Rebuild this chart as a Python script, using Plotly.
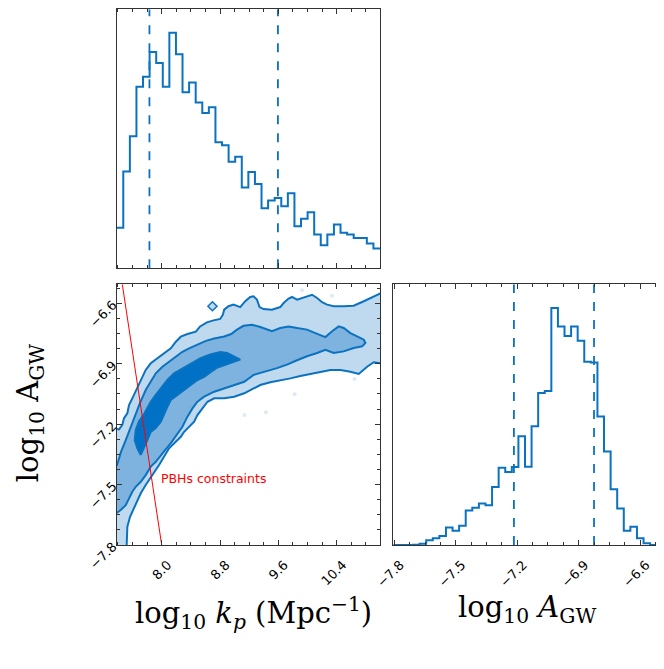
import numpy as np
import plotly.graph_objects as go

# axis limits
k_lim = [7.383, 10.994]
a_lim = [-7.8, -6.506]
a_hist_lim = [-7.805, -6.519]

# 1D marginal of log10 k_p (40 bins, relative counts)
k_counts = [123, 293, 400, 550, 580, 655, 622, 550, 713, 648, 533, 563, 502, 470, 488,
            382, 373, 323, 338, 245, 292, 255, 182, 205, 213, 188, 227, 127, 150, 170,
            102, 70, 102, 133, 108, 102, 92, 92, 75, 60]
k_quantiles = [7.832, 9.594]

# 1D marginal of log10 A_GW (40 bins, relative counts)
a_counts = [0, 0, 0, 1, 4, 14, 20, 27, 53, 43, 58, 104, 112, 125, 120, 175, 233, 220, 235, 328,
            236, 358, 458, 464, 714, 658, 630, 658, 615, 552, 550, 387, 282, 168, 110, 43, 55, 20, 5, 0]
a_quantiles = [-7.216, -6.825]

# 2D credible contours (data units)
outer_up_k = [7.383, 7.415, 7.460, 7.483, 7.529, 7.552, 7.597, 7.666, 7.713, 7.781, 7.850, 7.941, 8.033,
              8.125, 8.194, 8.262, 8.353, 8.468, 8.527, 8.620, 8.710, 8.802, 8.839, 8.857, 8.916, 8.985,
              9.077, 9.146, 9.214, 9.260, 9.306, 9.342, 9.397, 9.512, 9.626, 9.672, 9.740, 9.787, 9.856,
              9.925, 9.993, 10.062, 10.131, 10.199, 10.268, 10.359, 10.496, 10.633, 10.771, 10.908, 11.0]
outer_up_a = [-7.224, -7.226, -7.204, -7.171, -7.146, -7.105, -7.072, -7.022, -6.981, -6.931, -6.898, -6.873,
              -6.849, -6.824, -6.791, -6.766, -6.753, -6.741, -6.715, -6.695, -6.685, -6.678, -6.657, -6.632,
              -6.615, -6.607, -6.619, -6.590, -6.569, -6.566, -6.582, -6.619, -6.629, -6.632, -6.619, -6.599,
              -6.577, -6.569, -6.582, -6.574, -6.563, -6.558, -6.574, -6.595, -6.607, -6.615, -6.615, -6.612,
              -6.590, -6.566, -6.551]
outer_lo_k = [11.0, 10.908, 10.817, 10.702, 10.588, 10.451, 10.313, 10.176, 10.039, 9.901, 9.764, 9.626,
              9.489, 9.352, 9.214, 9.132, 8.994, 8.857, 8.720, 8.628, 8.559, 8.490, 8.445, 8.376, 8.308,
              8.262, 8.101, 7.964, 7.850, 7.781, 7.713, 7.644, 7.566, 7.529, 7.520]
outer_lo_a = [-6.898, -6.893, -6.915, -6.951, -6.940, -6.931, -6.931, -6.940, -6.951, -6.961, -6.973, -6.981,
              -6.992, -7.006, -7.031, -7.047, -7.064, -7.072, -7.072, -7.089, -7.122, -7.155, -7.188, -7.213,
              -7.238, -7.263, -7.320, -7.403, -7.461, -7.502, -7.543, -7.602, -7.660, -7.709, -7.800]
mid_k = [7.383, 7.401, 7.442, 7.507, 7.575, 7.644, 7.703, 7.781, 7.850, 7.919, 8.010, 8.101, 8.194, 8.284,
         8.376, 8.490, 8.606, 8.720, 8.857, 8.953, 9.032, 9.122, 9.238, 9.352, 9.444, 9.512, 9.626, 9.740,
         9.856, 9.993, 10.107, 10.245, 10.337, 10.427, 10.496, 10.588, 10.680, 10.771, 10.794, 10.749,
         10.633, 10.496, 10.359, 10.245, 10.131, 9.993, 9.856, 9.718, 9.581, 9.444, 9.260, 9.132, 8.994,
         8.857, 8.720, 8.582, 8.490, 8.422, 8.353, 8.284, 8.216, 8.125, 8.010, 7.919, 7.850, 7.781, 7.713,
         7.644, 7.597, 7.552, 7.507, 7.438, 7.383]
mid_a = [-7.408, -7.388, -7.338, -7.279, -7.214, -7.150, -7.095, -7.031, -6.986, -6.948, -6.915, -6.890,
         -6.865, -6.841, -6.824, -6.804, -6.787, -6.775, -6.765, -6.753, -6.731, -6.712, -6.707, -6.718,
         -6.731, -6.739, -6.723, -6.715, -6.723, -6.731, -6.748, -6.768, -6.739, -6.715, -6.723, -6.748,
         -6.764, -6.781, -6.797, -6.814, -6.822, -6.839, -6.847, -6.831, -6.847, -6.863, -6.883, -6.905,
         -6.922, -6.935, -6.956, -6.990, -7.006, -7.022, -7.039, -7.064, -7.089, -7.122, -7.163, -7.213,
         -7.249, -7.294, -7.345, -7.387, -7.411, -7.453, -7.486, -7.511, -7.536, -7.568, -7.602, -7.626, -7.641]
inner_k = [7.713, 7.666, 7.630, 7.644, 7.689, 7.758, 7.803, 7.850, 7.919, 7.988, 8.078, 8.170, 8.284, 8.400,
           8.527, 8.665, 8.802, 8.898, 8.981, 9.077, 9.008, 8.940, 8.857, 8.765, 8.674, 8.582, 8.490, 8.400,
           8.308, 8.216, 8.125, 8.078, 8.033, 7.988, 7.919, 7.850, 7.803, 7.758, 7.721, 7.713]
inner_a = [-7.353, -7.320, -7.279, -7.229, -7.185, -7.150, -7.120, -7.089, -7.055, -7.022, -6.981, -6.948,
           -6.923, -6.898, -6.874, -6.854, -6.842, -6.847, -6.862, -6.880, -6.888, -6.897, -6.904, -6.919,
           -6.941, -6.965, -6.981, -7.006, -7.031, -7.055, -7.080, -7.114, -7.155, -7.188, -7.219, -7.239,
           -7.279, -7.312, -7.345, -7.353]

# isolated low-density samples
island_k, island_a = [8.696], [-6.615]
stray_k = [9.136, 9.430, 9.823, 10.643, 9.925, 10.337]
stray_a = [-7.155, -7.141, -7.052, -6.976, -6.536, -6.563]

# PBH constraint line
pbh_k = [7.46, 8.0]
pbh_a = [-6.506, -7.8]

BLUE = "#0b72c0"
LIGHT = "#bfd9ee"
MID = "#7eb3df"
DARK = "#0071c5"

fig = go.Figure()

# top histogram
k_edges = np.linspace(k_lim[0], k_lim[1], len(k_counts) + 1)
fig.add_trace(go.Scatter(x=k_edges, y=k_counts + [k_counts[-1]], mode="lines", line_shape="hv",
                         line=dict(color=BLUE, width=2), xaxis="x", yaxis="y"))
for q in k_quantiles:
    fig.add_trace(go.Scatter(x=[q, q], y=[0, 1.1 * max(k_counts)], mode="lines",
                             line=dict(color=BLUE, width=1.8, dash="dash"), xaxis="x", yaxis="y"))

# right histogram
a_edges = np.linspace(a_hist_lim[0], a_hist_lim[1], len(a_counts) + 1)
fig.add_trace(go.Scatter(x=a_edges, y=a_counts + [a_counts[-1]], mode="lines", line_shape="hv",
                         line=dict(color=BLUE, width=2), xaxis="x3", yaxis="y3"))
for q in a_quantiles:
    fig.add_trace(go.Scatter(x=[q, q], y=[0, 1.1 * max(a_counts)], mode="lines",
                             line=dict(color=BLUE, width=1.8, dash="dash"), xaxis="x3", yaxis="y3"))

# 2D filled contours
fig.add_trace(go.Scatter(x=outer_up_k + outer_lo_k + [k_lim[0], k_lim[0]],
                         y=outer_up_a + outer_lo_a + [a_lim[0], outer_up_a[0]],
                         fill="toself", fillcolor=LIGHT, mode="lines", line=dict(width=0),
                         xaxis="x2", yaxis="y2"))
fig.add_trace(go.Scatter(x=mid_k + [mid_k[0]], y=mid_a + [mid_a[0]], fill="toself", fillcolor=MID,
                         mode="lines", line=dict(width=0), xaxis="x2", yaxis="y2"))
fig.add_trace(go.Scatter(x=inner_k, y=inner_a, fill="toself", fillcolor=DARK,
                         mode="lines", line=dict(width=0), xaxis="x2", yaxis="y2"))
for xs, ys in [(outer_up_k, outer_up_a), (outer_lo_k, outer_lo_a), (mid_k, mid_a), (inner_k, inner_a)]:
    fig.add_trace(go.Scatter(x=xs, y=ys, mode="lines", line=dict(color=BLUE, width=2),
                             xaxis="x2", yaxis="y2"))
fig.add_trace(go.Scatter(x=stray_k, y=stray_a, mode="markers",
                         marker=dict(color="#dceaf6", size=4), xaxis="x2", yaxis="y2"))
fig.add_trace(go.Scatter(x=island_k, y=island_a, mode="markers",
                         marker=dict(symbol="diamond", color=LIGHT, size=7, line=dict(color=BLUE, width=1.5)),
                         xaxis="x2", yaxis="y2"))
fig.add_trace(go.Scatter(x=pbh_k, y=pbh_a, mode="lines", line=dict(color="#ff0000", width=1),
                         xaxis="x2", yaxis="y2"))
fig.add_trace(go.Scatter(x=[7.99], y=[-7.477], mode="text", text=["PBHs constraints"],
                         textposition="middle right",
                         textfont=dict(color="#ff0000", size=12.5, family="DejaVu Sans"),
                         xaxis="x2", yaxis="y2"))

tickfont = dict(family="DejaVu Sans", size=13, color="black")
spine = dict(showline=True, linecolor="#333333", linewidth=1.2, mirror="allticks", automargin=False,
             ticks="inside", ticklen=5, tickcolor="#333333", showgrid=False, zeroline=False)
bare = dict(showline=True, linecolor="#333333", linewidth=1.2, mirror=True, automargin=False,
            showticklabels=False, ticks="", showgrid=False, zeroline=False)
a_ticks = [-7.8, -7.5, -7.2, -6.9, -6.6]
a_text = ["\u22127.8", "\u22127.5", "\u22127.2", "\u22126.9", "\u22126.6"]
k_ticks = [8.0, 8.8, 9.6, 10.4]
k_minor = dict(ticks="inside", ticklen=3, dtick=0.2, tick0=8.0, tickcolor="#333333")
a_minor = dict(ticks="inside", ticklen=3, dtick=0.075, tick0=-7.8, tickcolor="#333333")
# rotated labels in the reference are centred on their tick
xlab = dict(tickangle=-45, tickfont=tickfont, ticklabelshift=6, ticklabelstandoff=6)

# page body has an 8px margin, so the figure is a little smaller than the window
fig.update_layout(
    width=656, height=661, showlegend=False,
    margin=dict(l=0, r=0, t=0, b=0),
    paper_bgcolor="white", plot_bgcolor="white",
    xaxis=dict(domain=[0.1657, 0.5671], range=k_lim, anchor="y", tickvals=k_ticks,
               showticklabels=False, minor=k_minor, **spine),
    yaxis=dict(domain=[0.6062, 0.998], range=[0, 1.1 * max(k_counts)], anchor="x", **bare),
    xaxis2=dict(domain=[0.1657, 0.5671], range=k_lim, anchor="y2", tickvals=k_ticks,
                ticktext=["8.0", "8.8", "9.6", "10.4"], minor=k_minor, **xlab, **spine),
    yaxis2=dict(domain=[0.1876, 0.5820], range=a_lim, anchor="x2", tickvals=a_ticks, ticktext=a_text,
                tickangle=-45, tickfont=tickfont, minor=a_minor, **spine),
    xaxis3=dict(domain=[0.5873, 0.9889], range=a_hist_lim, anchor="y3", tickvals=a_ticks, ticktext=a_text,
                minor=a_minor, **xlab, **spine),
    yaxis3=dict(domain=[0.1876, 0.5820], range=[0, 1.1 * max(a_counts)], anchor="x3", **bare),
)

labfont = dict(family="DejaVu Serif", size=29, color="black")
fig.add_annotation(x=0.0335, y=0.387, xref="paper", yref="paper", textangle=-90, showarrow=False,
                   xanchor="center", yanchor="middle",
                   text="log<sub>10</sub> A<sub>GW</sub>", font=labfont)
fig.add_annotation(x=0.3735, y=0.0847, xref="paper", yref="paper", showarrow=False,
                   xanchor="center", yanchor="middle",
                   text="log<sub>10</sub> <i>k<sub>p</sub></i> (Mpc<sup>\u22121</sup>)", font=labfont)
fig.add_annotation(x=0.791, y=0.0908, xref="paper", yref="paper", showarrow=False,
                   xanchor="center", yanchor="middle",
                   text="log<sub>10</sub> <i>A</i><sub>GW</sub>", font=labfont)

fig.write_html("out.html")
